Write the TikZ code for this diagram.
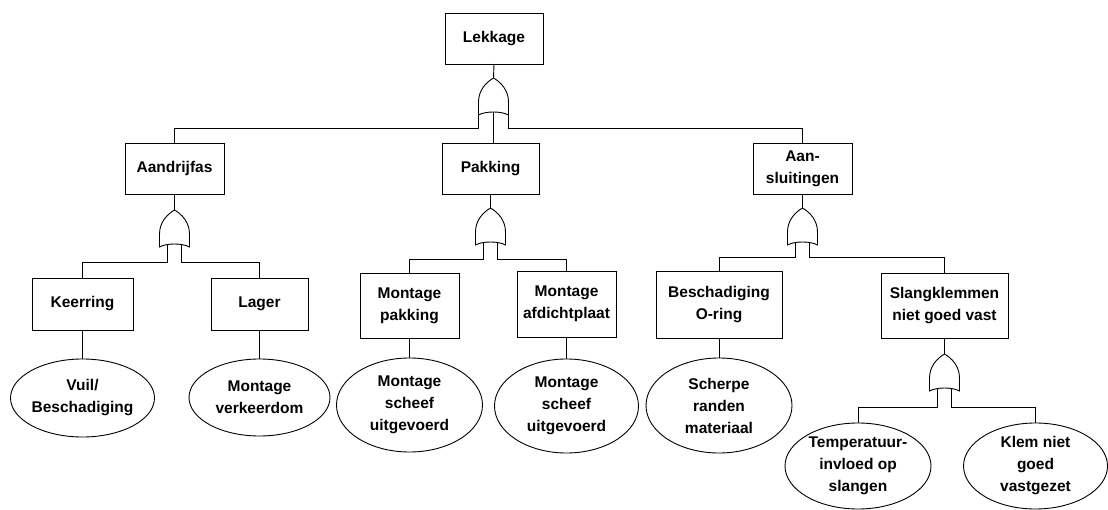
\documentclass[tikz,border=0pt]{standalone}
\usepackage{fontspec}
\setmainfont{Liberation Sans}
\usetikzlibrary{shapes.geometric}
\tikzset{
  every path/.style={line width=0.9pt},
  ev/.style={draw, line width=0.9pt, rectangle, align=center, inner sep=0pt, outer sep=0pt,
    font={\fontsize{15.5}{22}\selectfont\bfseries}},
  ell/.style={draw, line width=0.9pt, ellipse, align=center, inner sep=0pt, outer sep=0pt,
    font={\fontsize{15.5}{22}\selectfont\bfseries}},
  orgate/.pic={
    \draw[line width=0.9pt] (-15,0) -- (-15,-13) .. controls (-15,-25) and (-7,-33) .. (0,-37)
      .. controls (7,-33) and (15,-25) .. (15,-13) -- (15,0)
      .. controls (8,-4) and (-8,-4) .. (-15,0) -- cycle;
    \coordinate (-apex) at (0,-37);
    \coordinate (-bl) at (-15,0);
    \coordinate (-br) at (15,0);
    \coordinate (-mid) at (0,-3);
    \coordinate (-ll) at (-7,-2.5);
    \coordinate (-rl) at (7,-2.5);
  }
}
\begin{document}
\begin{tikzpicture}[x=1pt,y=-1pt]
\useasboundingbox (0,0) rectangle (1108,510);
% boxes
\node[ev, minimum width=98pt, minimum height=51pt] (lek) at (494,38.5) {Lekkage};
\node[ev, minimum width=99pt, minimum height=51pt] (aan) at (174.5,168.5) {Aandrijfas};
\node[ev, minimum width=97pt, minimum height=51pt] (pak) at (490.5,168.5) {Pakking};
\node[ev, minimum width=99pt, minimum height=51pt] (aans) at (802.5,168.5) {Aan-\\sluitingen};
\node[ev, minimum width=101pt, minimum height=52pt] (keer) at (82.5,304) {Keerring};
\node[ev, minimum width=97pt, minimum height=52pt] (lager) at (259.5,304) {Lager};
\node[ev, minimum width=99pt, minimum height=65pt] (mp) at (409.5,305.5) {Montage\\pakking};
\node[ev, minimum width=99pt, minimum height=66pt] (ma) at (566.5,304) {Montage\\afdichtplaat};
\node[ev, minimum width=126pt, minimum height=67pt] (bo) at (719,304.5) {Beschadiging\\O-ring};
\node[ev, minimum width=127pt, minimum height=65pt] (sk) at (944.5,305.5) {Slangklemmen\\niet goed vast};
% ellipses
\node[ell, minimum width=144pt, minimum height=78pt] (e1) at (82.5,398) {Vuil/\\Beschadiging};
\node[ell, minimum width=141pt, minimum height=77pt] (e2) at (259.5,397.5) {Montage\\verkeerdom};
\node[ell, minimum width=146pt, minimum height=94pt] (e3) at (409.5,405) {Montage\\scheef\\uitgevoerd};
\node[ell, minimum width=144pt, minimum height=94pt] (e4) at (566.5,406) {Montage\\scheef\\uitgevoerd};
\node[ell, minimum width=146pt, minimum height=95pt] (e5) at (719,405.5) {Scherpe\\randen\\materiaal};
\node[ell, minimum width=146pt, minimum height=86pt] (e6) at (858,466) {Temperatuur-\\invloed op\\slangen};
\node[ell, minimum width=144pt, minimum height=86pt] (e7) at (1035.5,466) {Klem niet\\goed\\vastgezet};
% gates
\pic (g0) at (493.5,115) {orgate};
\pic (g1) at (174.5,247) {orgate};
\pic (g2) at (490.5,245) {orgate};
\pic (g3) at (802.5,245) {orgate};
\pic (g4) at (944.5,391) {orgate};
% connectors
\draw (lek.south) -- (g0-apex);
\draw (g0-bl) -- ++(0,13) -| (aan.north);
\draw (g0-br) -- ++(0,13) -| (aans.north);
\draw (g0-mid) -- (g0-mid |- pak.north);
\draw (aan.south) -- (g1-apex);
\draw (pak.south) -- (g2-apex);
\draw (aans.south) -- (g3-apex);
\draw (sk.south) -- (g4-apex);
\draw (g1-ll) -- ++(0,17.5) -| (keer.north);
\draw (g1-rl) -- ++(0,17.5) -| (lager.north);
\draw (g2-ll) -- ++(0,16.5) -| (mp.north);
\draw (g2-rl) -- ++(0,16.5) -| (ma.north);
\draw (g3-ll) -- ++(0,14.5) -| (bo.north);
\draw (g3-rl) -- ++(0,14.5) -| (sk.north);
\draw (g4-ll) -- ++(0,18.5) -| (e6.north);
\draw (g4-rl) -- ++(0,18.5) -| (e7.north);
\draw (keer.south) -- (e1.north);
\draw (lager.south) -- (e2.north);
\draw (mp.south) -- (e3.north);
\draw (ma.south) -- (e4.north);
\draw (bo.south) -- (e5.north);
\end{tikzpicture}
\end{document}
